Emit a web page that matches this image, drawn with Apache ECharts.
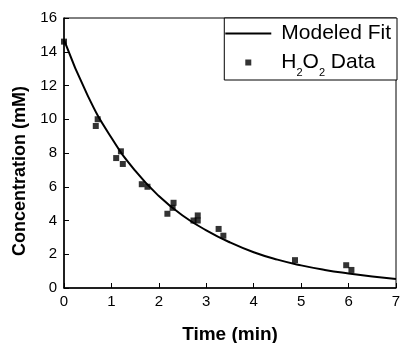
<!DOCTYPE html>
<html>
<head>
<meta charset="utf-8">
<script src="https://cdn.jsdelivr.net/npm/echarts@6/dist/echarts.min.js"></script>
<style>html,body{margin:0;padding:0;background:#fff}#c{width:401px;height:343px}</style>
</head>
<body>
<div id="c"></div>
<script>
// Modeled fit curve: time (min), concentration (mM)
var fitTime = [0, 0.5, 1, 1.5, 2, 2.5, 3, 3.5, 4, 4.5, 5, 5.5, 6, 6.5, 7];
var fitConc = [14.7, 11.4, 8.9, 6.95, 5.45, 4.3, 3.42, 2.7, 2.12, 1.68, 1.34, 1.07, 0.86, 0.68, 0.53];
// H2O2 measured data
var dataTime = [0, 0.67, 0.71, 1.10, 1.20, 1.24, 1.64, 1.76, 2.18, 2.29, 2.31, 2.73, 2.82, 2.82, 3.26, 3.36, 4.87, 5.95, 6.06];
var dataConc = [14.6, 9.6, 10.0, 7.7, 8.1, 7.35, 6.15, 6.0, 4.4, 4.75, 5.05, 4.0, 4.3, 4.0, 3.5, 3.1, 1.65, 1.35, 1.07];
var xTicks = [0, 1, 2, 3, 4, 5, 6, 7];
var yTicks = [0, 2, 4, 6, 8, 10, 12, 14, 16];
var fitName = 'Modeled Fit';
var dataName = 'H2O2 Data';

var FONT = 'Liberation Sans, Arial, Helvetica, sans-serif';
var chart = echarts.init(document.getElementById('c'), null, {renderer: 'canvas'});
var fitPts = fitTime.map(function (t, i) { return [t, fitConc[i]]; });
var dataPts = dataTime.map(function (t, i) { return [t, dataConc[i]]; });

chart.setOption({
  animation: false,
  backgroundColor: '#fff',
  grid: {left: 64, right: 5, top: 18, bottom: 55, containLabel: false, outerBoundsMode: 'none',
         show: true, borderColor: '#000', borderWidth: 1, backgroundColor: 'transparent'},
  xAxis: {
    type: 'value', min: xTicks[0], max: xTicks[xTicks.length - 1], interval: 1,
    name: 'Time (min)', nameLocation: 'middle', nameGap: 37,
    nameTextStyle: {fontFamily: FONT, fontSize: 19, fontWeight: 'bold', color: '#000'},
    axisLine: {lineStyle: {color: '#000', width: 1.5}},
    axisTick: {inside: true, length: 5, lineStyle: {color: '#000', width: 1}},
    axisLabel: {fontFamily: FONT, fontSize: 15, color: '#000', margin: 6},
    splitLine: {show: false}
  },
  yAxis: {
    type: 'value', min: yTicks[0], max: yTicks[yTicks.length - 1], interval: 2,
    name: 'Concentration (mM)', nameLocation: 'middle', nameGap: 22,
    nameTextStyle: {fontFamily: FONT, fontSize: 18, fontWeight: 'bold', color: '#000', padding: [0, 36, 0, 0]},
    axisLine: {lineStyle: {color: '#000', width: 1.5}},
    axisTick: {inside: true, length: 5, lineStyle: {color: '#000', width: 1}},
    axisLabel: {fontFamily: FONT, fontSize: 15, color: '#000', margin: 7},
    splitLine: {show: false}
  },
  legend: {
    orient: 'vertical', right: 4, top: 18,
    backgroundColor: '#fff', borderColor: '#000', borderWidth: 1,
    padding: [5, 6, 2, 1], itemGap: 3,
    itemWidth: 46, itemHeight: 6, symbolKeepAspect: true,
    data: [
      {name: fitName, icon: 'path://M0,0H46V2H0Z'},
      {name: dataName, icon: 'path://M0,0H1V1H0Z'}
    ],
    formatter: function (n) {
      if (n === dataName) return '{a|H}{s|2}{a|O}{s|2}{a| Data}';
      return '{a|' + n + '}';
    },
    textStyle: {
      fontFamily: FONT, color: '#000', padding: [0, 0, 0, 5],
      rich: {
        a: {fontFamily: FONT, fontSize: 21, lineHeight: 24, color: '#000'},
        s: {fontFamily: FONT, fontSize: 11, lineHeight: 11, padding: [20, 0, 0, 0], color: '#000'}
      }
    }
  },
  series: [
    {name: fitName, type: 'line', data: fitPts, smooth: true, showSymbol: false, symbol: 'none',
     lineStyle: {color: '#000', width: 2}, itemStyle: {color: '#000'}, z: 2},
    {name: dataName, type: 'scatter', data: dataPts, symbol: 'rect', symbolSize: 6,
     itemStyle: {color: '#000'}, z: 3}
  ]
});
</script>
</body>
</html>
